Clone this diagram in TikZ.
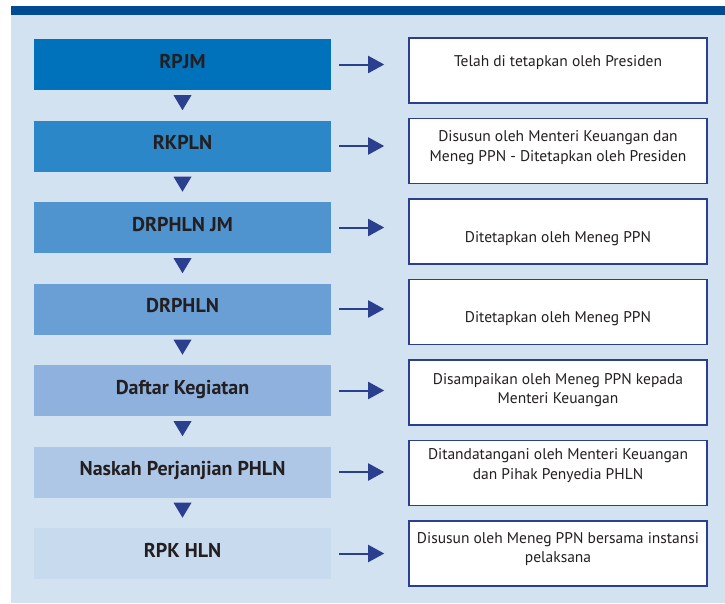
\documentclass[tikz,border=0pt]{standalone}
\usepackage{fontspec}
\setmainfont{PT Sans}
\usetikzlibrary{arrows.meta, positioning, calc}

\definecolor{bandblue}{HTML}{004B93}
\definecolor{panelblue}{HTML}{D2E2F1}
\definecolor{navy}{HTML}{2B3F8F}
\definecolor{inkgray}{HTML}{231F20}
\definecolor{stepA}{HTML}{0072BC}
\definecolor{stepB}{HTML}{2B87C8}
\definecolor{stepC}{HTML}{4F93CF}
\definecolor{stepD}{HTML}{6A9FD6}
\definecolor{stepE}{HTML}{8FB1DE}
\definecolor{stepF}{HTML}{AFC7E6}
\definecolor{stepG}{HTML}{C8DAEE}

\begin{document}
\begin{tikzpicture}[x=1pt, y=-1pt, text=inkgray]
        % Setup the styles for the stages and notes
        \tikzset{stage style/.style={rectangle,
                                     minimum width=297pt,
                                     minimum height=51pt,
                                     inner sep=0pt,
                                     text height=14pt,
                                     text depth=7pt,
                                     font=\fontsize{20}{22}\selectfont\bfseries},
                 note style/.style={rectangle,
                                    draw=navy,
                                    line width=1.6pt,
                                    fill=white,
                                    minimum width=298pt,
                                    minimum height=65pt},
                 note text/.style={anchor=base,
                                   inner sep=0pt,
                                   align=center,
                                   font=\fontsize{15.5}{19.5}\selectfont},
                 flow/.style={draw=navy,
                              line width=2pt,
                              shorten <=8pt,
                              shorten >=24pt,
                              -{Triangle[length=16pt,width=17pt]}}}

        \useasboundingbox (0,0) rectangle (725,603);

        % Background panel and top band
        \fill[panelblue] (11,6) rectangle (725,603);
        \fill[bandblue] (11,6) rectangle (725,14.5);

        % Draw the stages
        \node[stage style, fill=stepA] at (182.5, 64.5)  (rpjm)    {RPJM};
        \node[stage style, fill=stepB] at (182.5, 146)   (rkpln)   {RKPLN};
        \node[stage style, fill=stepC] at (182.5, 227.5) (drphljm) {DRPHLN JM};
        \node[stage style, fill=stepD] at (182.5, 309)   (drphln)  {DRPHLN};
        \node[stage style, fill=stepE] at (182.5, 390.5) (daftar)  {Daftar Kegiatan};
        \node[stage style, fill=stepF] at (182.5, 472)   (naskah)  {Naskah Perjanjian PHLN};
        \node[stage style, fill=stepG] at (182.5, 553.5) (rpkhln)  {RPK HLN};

        % Draw the notes
        \node[note style] at (558, 70.5)  (rpjm note)    {};
        \node[note style] at (558, 151)   (rkpln note)   {};
        \node[note style] at (558, 231.5) (drphljm note) {};
        \node[note style] at (558, 312)   (drphln note)  {};
        \node[note style] at (558, 392.5) (daftar note)  {};
        \node[note style] at (558, 473)   (naskah note)  {};
        \node[note style] at (558, 553.5) (rpkhln note)  {};

        % base sits on the last line of a node
        \node[note text] at ($(rpjm note.north)+(0,29)$)      {Telah di tetapkan oleh Presiden};
        \node[note text] at ($(rkpln note.north)+(0,43.5)$)   {Disusun oleh Menteri Keuangan dan\\Meneg PPN - Ditetapkan oleh Presiden};
        \node[note text] at ($(drphljm note.north)+(0,44)$)   {Ditetapkan oleh Meneg PPN};
        \node[note text] at ($(drphln note.north)+(0,44)$)    {Ditetapkan oleh Meneg PPN};
        \node[note text] at ($(daftar note.north)+(0,44.5)$)  {Disampaikan oleh Meneg PPN kepada\\Menteri Keuangan};
        \node[note text] at ($(naskah note.north)+(0,39.5)$)  {Ditandatangani oleh Menteri Keuangan\\dan Pihak Penyedia PHLN};
        \node[note text] at ($(rpkhln note.north)+(0,42.5)$)  {Disusun oleh Meneg PPN bersama instansi\\pelaksana};

        % Connect the stages to their notes
        \draw[flow] (rpjm.east)    -- (rpjm.east -| rpjm note.west);
        \draw[flow] (rkpln.east)   -- (rkpln.east -| rkpln note.west);
        \draw[flow] (drphljm.east) -- (drphljm.east -| drphljm note.west);
        \draw[flow] (drphln.east)  -- (drphln.east -| drphln note.west);
        \draw[flow] (daftar.east)  -- (daftar.east -| daftar note.west);
        \draw[flow] (naskah.east)  -- (naskah.east -| naskah note.west);
        \draw[flow] (rpkhln.east)  -- (rpkhln.east -| rpkhln note.west);

        % Down markers between the stages
        \foreach \a in {rpjm, rkpln, drphljm, drphln, daftar, naskah}
            \fill[navy] ($(\a.south)+(-9,5)$) -- ++(18,0) -- ++(-9,15) -- cycle;
\end{tikzpicture}
\end{document}
